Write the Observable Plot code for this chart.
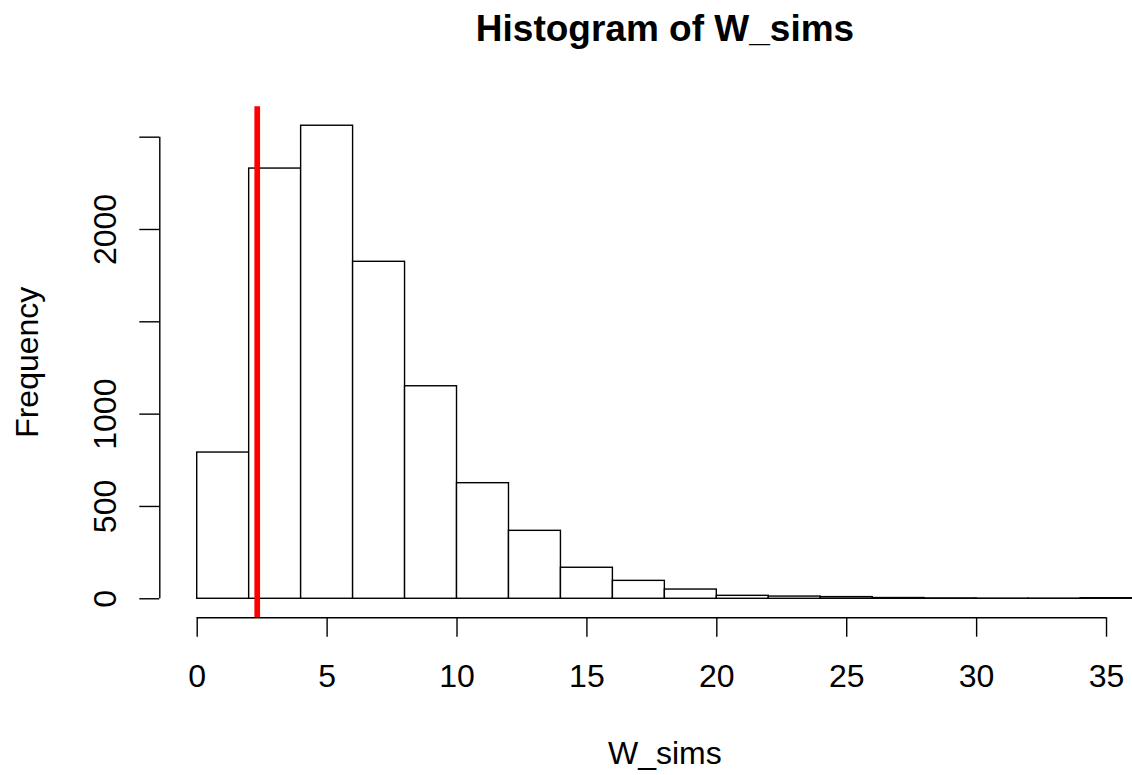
<!DOCTYPE html>
<html>
<head>
<meta charset="utf-8">
<script src="https://cdn.jsdelivr.net/npm/d3@7"></script>
<script src="https://cdn.jsdelivr.net/npm/@observablehq/plot@0.6"></script>
<style>
  html, body { margin: 0; padding: 0; background: #fff; overflow: hidden; }
  #wrap { width: 1132px; height: 775px; position: relative; background: #fff; }
  #title { position: relative; height: 80px; }
  #title span {
    position: absolute; left: 665px; top: 9.7px; transform: translateX(-50%);
    white-space: nowrap; font-family: "Liberation Sans", Arial, Helvetica, sans-serif;
    font-weight: bold; font-size: 37px; line-height: 37px; color: #000;
  }
</style>
</head>
<body>
<div id="wrap">
  <div id="title"><span>Histogram of W_sims</span></div>
  <div id="chart"></div>
</div>
<script>
// ---- data ----
const binStart = [0, 2, 4, 6, 8, 10, 12, 14, 16, 18, 20, 22, 24, 26, 28, 30, 32, 34];
const binEnd   = [2, 4, 6, 8, 10, 12, 14, 16, 18, 20, 22, 24, 26, 28, 30, 32, 34, 36];
const counts   = [792, 2330, 2562, 1825, 1151, 626, 368, 168, 97, 50, 16, 12, 9, 4, 2, 1, 1, 3];
const observedW = [2.31];
const xTicks = [0, 5, 10, 15, 20, 25, 30, 35];
const yTicks = [0, 500, 1000, 1500, 2000, 2500];
const yTickLabels = [0, 500, 1000, 2000];
const xLabel = ["W_sims"];
const yLabel = ["Frequency"];

const bins = binStart.map((s, i) => ({x1: s, x2: binEnd[i], count: counts[i]}));

// R-style 4% axis extension
const xMin = -1.44, xMax = 36.0;
const yMax0 = d3.max(counts);
const yMin = -0.04 * yMax0, yMax = yMax0 * 1.04;

const font = 32;
const chart = Plot.plot({
  width: 1132,
  height: 695,
  marginLeft: 159.3,
  marginRight: 0,
  marginTop: 26.3,
  marginBottom: 157.8,
  style: {fontFamily: '"Liberation Sans", Arial, Helvetica, sans-serif', fontSize: font + "px", color: "#000", background: "#fff", overflow: "visible"},
  x: {domain: [xMin, xMax], label: null},
  y: {domain: [yMin, yMax], label: null},
  marks: [
    Plot.rectY(bins, {x1: "x1", x2: "x2", y1: 0, y2: "count", fill: "white", stroke: "black", strokeWidth: 1.4}),
    Plot.ruleX(observedW, {stroke: "#ff0000", strokeWidth: 5.7}),
    // x axis
    Plot.ruleY([yMin], {x1: xTicks[0], x2: xTicks[xTicks.length - 1], stroke: "black", strokeWidth: 1.4}),
    Plot.axisX({ticks: xTicks, tickSize: 19.5, tickFormat: () => "", label: null, anchor: "bottom", stroke: "black", strokeWidth: 1.4}),
    Plot.text(xTicks, {x: d => d, frameAnchor: "bottom", dy: 58.6, text: d => String(d), fontSize: font, fill: "black", textAnchor: "middle", lineAnchor: "middle"}),
    // y axis
    Plot.ruleX([xMin], {y1: yTicks[0], y2: yTicks[yTicks.length - 1], stroke: "black", strokeWidth: 1.4}),
    Plot.axisY({ticks: yTicks, tickSize: 20, tickFormat: () => "", label: null, anchor: "left", stroke: "black", strokeWidth: 1.4}),
    Plot.text(yTickLabels, {y: d => d, frameAnchor: "left", dx: -54.5, rotate: -90, text: d => String(d), fontSize: font, fill: "black", textAnchor: "middle", lineAnchor: "middle"}),
    // axis titles
    Plot.text(xLabel, {frameAnchor: "bottom", dx: 18.7, dy: 135.6, text: d => d, fontSize: font, fill: "black", textAnchor: "middle", lineAnchor: "middle"}),
    Plot.text(yLabel, {frameAnchor: "left", dx: -132.5, rotate: -90, text: d => d, fontSize: font, fill: "black", textAnchor: "middle", lineAnchor: "middle"})
  ]
});
document.getElementById("chart").appendChild(chart);
</script>
</body>
</html>
